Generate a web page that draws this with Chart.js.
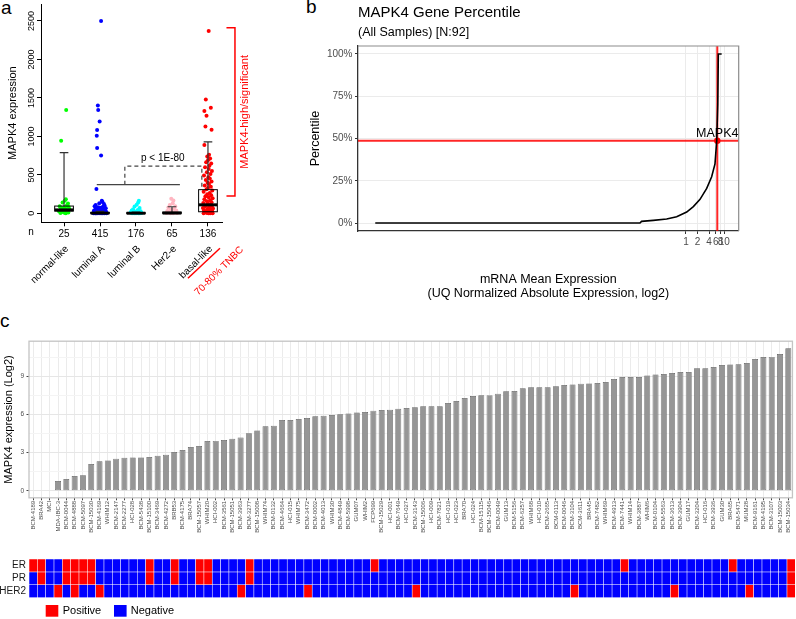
<!DOCTYPE html>
<html>
<head>
<meta charset="utf-8">
<script src="https://cdn.jsdelivr.net/npm/chart.js@4.4.1/dist/chart.umd.min.js"></script>
<style>
  body { margin: 0; width: 796px; height: 619px; position: relative; overflow: hidden; background: #fff;
         font-family: 'Liberation Sans', Arial, sans-serif; }
  canvas { position: absolute; }
  .letter { position: absolute; font-size: 19px; line-height: 1; color: #000; }
</style>
</head>
<body>
<div class="letter" style="left:1px;top:-2px">a</div>
<div class="letter" style="left:306px;top:-3px">b</div>
<div class="letter" style="left:0px;top:311px">c</div>
<canvas id="subtype" width="290" height="300" style="left:0;top:0"></canvas>
<canvas id="pctl" width="506" height="300" style="left:290px;top:0"></canvas>
<canvas id="bars" width="796" height="240" style="left:0;top:300px"></canvas>
<canvas id="status" width="796" height="69" style="left:0;top:550px"></canvas>
<script>
Chart.defaults.font.family = "'Liberation Sans', Arial, sans-serif";
Chart.defaults.color = "#000";

// ---- panel a: subtypes ----
const subtypeNames = ["normal-like", "luminal A", "luminal B", "Her2-e", "basal-like"];
const subtypeCounts = [25, 415, 176, 65, 136];
const subtypeColors = ["#00ff00", "#0000ff", "#00ffff", "#ffb6c1", "#ff0000"];
// [jitter offset, MAPK4 expression]
const normalPts = [[0.06,1343],[-0.08,944],[0.05,182],[0.02,165],[-0.04,140],[0.11,128],[0.08,104],[-0.12,92],[0.13,84],[0.0,76],[-0.06,68],[0.04,60],[0.15,54],[-0.1,48],[0.07,42],[-0.02,38],[0.1,33],[-0.14,28],[0.03,22],[0.09,18],[-0.07,14],[0.12,10],[0.01,7],[-0.1,4],[0.05,2]];
const lumAPts = [[0.03,2500],[-0.06,1403],[-0.05,1343],[-0.01,1193],[-0.08,1082],[-0.09,1009],[-0.08,850],[0.03,751],[-0.1,318],[0.05,165],[0.07,148],[-0.02,132],[0.11,121],[-0.12,110],[0.13,98],[-0.15,92],[0.08,86],[-0.05,80],[0.02,74],[0.16,68],[-0.09,63],[0.1,58],[-0.13,52],[0.04,47],[-0.03,43],[0.14,39],[-0.17,35],[0.09,31],[-0.07,28],[0.01,25],[0.17,22],[-0.11,19],[0.06,16],[-0.04,14],[0.12,12],[-0.16,10],[0.03,8],[-0.08,7],[0.15,6],[-0.01,5],[0.1,4],[-0.14,3],[0.05,3],[-0.06,2],[0.18,2],[-0.18,1],[0.08,1],[-0.1,1],[0.0,0],[0.13,0],[-0.12,0]];
const lumBPts = [[0.08,163],[0.06,140],[0.02,112],[-0.04,88],[0.1,70],[-0.08,55],[0.05,44],[-0.12,36],[0.13,28],[-0.02,22],[0.09,16],[-0.15,12],[0.04,9],[-0.07,6],[0.15,4],[0.0,3],[-0.11,2],[0.11,1],[-0.05,0],[0.07,0]];
const her2Pts = [[-0.02,189],[0.04,168],[0.02,132],[-0.06,110],[0.09,92],[-0.1,75],[0.06,60],[-0.03,48],[0.12,38],[-0.13,30],[0.0,22],[0.08,16],[-0.08,10],[0.14,6],[-0.15,4],[0.03,2],[-0.04,0]];
const basalPts = [[0.02,2368],[-0.06,1480],[0.08,1372],[-0.1,1329],[-0.04,1269],[-0.07,1127],[0.1,1085],[-0.1,888],[0.03,763],[-0.02,740],[0.06,712],[0.0,690],[-0.05,665],[0.09,648],[0.04,620],[-0.08,598],[0.02,575],[0.11,552],[-0.03,534],[0.07,510],[-0.11,492],[0.01,470],[0.05,452],[-0.06,432],[0.1,415],[-0.01,398],[0.03,380],[-0.09,362],[0.08,345],[0.0,330],[-0.04,312],[0.12,296],[-0.12,280],[0.05,265],[-0.02,250],[0.09,236],[-0.07,222],[0.02,208],[0.13,195],[-0.1,182],[0.06,170],[-0.03,158],[0.1,146],[-0.13,135],[0.0,124],[0.07,114],[-0.05,104],[0.11,95],[-0.08,86],[0.03,78],[-0.14,70],[0.14,62],[-0.01,55],[0.08,48],[-0.11,41],[0.05,35],[-0.06,29],[0.12,24],[0.0,19],[-0.09,14],[0.09,10],[-0.03,6],[0.06,3],[-0.12,1],[0.02,0],[0.13,0]];
const boxQ1 = [30, 0, 0, 0, 21];
const boxMedian = [45, 3, 2, 4, 111];
const boxQ3 = [95, 12, 8, 16, 308];
const whiskerHigh = [790, 25, 18, 86, 929];
const yTicksA = [0, 500, 1000, 1500, 2000, 2500];

const groupPts = [normalPts, lumAPts, lumBPts, her2Pts, basalPts];

const subtypeDecor = {
  id: "subtypeDecor",
  afterDatasetsDraw(chart) {
    const { ctx, scales: { x, y } } = chart;
    ctx.save();
    // boxes
    subtypeNames.forEach((n, i) => {
      const cx = x.getPixelForValue(i + 1);
      const half = x.getPixelForValue(i + 1.26) - cx;
      const cap = x.getPixelForValue(i + 1.12) - cx;
      const yq1 = y.getPixelForValue(boxQ1[i]), yq3 = y.getPixelForValue(boxQ3[i]);
      const ym = y.getPixelForValue(boxMedian[i]), yh = y.getPixelForValue(whiskerHigh[i]);
      ctx.strokeStyle = "#333"; ctx.lineWidth = 1.2;
      ctx.beginPath(); ctx.moveTo(cx, yq3); ctx.lineTo(cx, yh);
      ctx.moveTo(cx - cap, yh); ctx.lineTo(cx + cap, yh); ctx.stroke();
      ctx.strokeStyle = "#000"; ctx.lineWidth = 1;
      ctx.strokeRect(cx - half, yq3, 2 * half, yq1 - yq3);
      ctx.lineWidth = 3;
      ctx.beginPath(); ctx.moveTo(cx - half, ym); ctx.lineTo(cx + half, ym); ctx.stroke();
    });
    // y tick labels, rotated like base R
    ctx.fillStyle = "#000"; ctx.font = "9px 'Liberation Sans', Arial";
    ctx.textAlign = "center"; ctx.textBaseline = "middle";
    yTicksA.forEach(v => {
      ctx.save(); ctx.translate(x.left - 9.5, y.getPixelForValue(v)); ctx.rotate(-Math.PI / 2);
      ctx.fillText(String(v), 0, 0); ctx.restore();
    });
    // n
    ctx.font = "10px 'Liberation Sans', Arial";
    ctx.fillText("n", x.left - 10, y.bottom + 10);
    // rotated subtype names
    ctx.textAlign = "right";
    subtypeNames.forEach((n, i) => {
      ctx.save(); ctx.translate(x.getPixelForValue(i + 1) + 3, y.bottom + 25); ctx.rotate(-Math.PI / 4);
      ctx.fillText(n, 0, 0); ctx.restore();
    });
    const bx = x.getPixelForValue(5);
    ctx.fillStyle = "#ff0000";
    ctx.save(); ctx.translate(bx + 34, y.bottom + 26); ctx.rotate(-Math.PI / 4);
    ctx.fillText("70-80% TNBC", 0, 0); ctx.restore();
    ctx.strokeStyle = "#ff0000"; ctx.lineWidth = 1.5;
    ctx.beginPath(); ctx.moveTo(bx - 20, y.bottom + 56); ctx.lineTo(bx + 12, y.bottom + 26); ctx.stroke();
    // MAPK4-high bracket
    const yTop = y.getPixelForValue(2410), yBot = y.getPixelForValue(227);
    ctx.beginPath();
    ctx.moveTo(bx + 18.5, yTop); ctx.lineTo(bx + 27, yTop); ctx.lineTo(bx + 27, yBot); ctx.lineTo(bx + 18.5, yBot);
    ctx.stroke();
    ctx.font = "11px 'Liberation Sans', Arial"; ctx.textAlign = "center";
    ctx.save(); ctx.translate(bx + 37, (yTop + yBot) / 2); ctx.rotate(-Math.PI / 2);
    ctx.fillText("MAPK4-high/significant", 0, 0); ctx.restore();
    // p-value bracket
    ctx.strokeStyle = "#444"; ctx.lineWidth = 1.2;
    const ySolid = y.getPixelForValue(373), yDash = y.getPixelForValue(613);
    ctx.beginPath(); ctx.moveTo(x.getPixelForValue(1.91), ySolid); ctx.lineTo(x.getPixelForValue(4.22), ySolid); ctx.stroke();
    ctx.setLineDash([4, 3]);
    const xl = x.getPixelForValue(2.69), xr = x.getPixelForValue(4.83);
    ctx.beginPath(); ctx.moveTo(xl, ySolid); ctx.lineTo(xl, yDash); ctx.lineTo(xr, yDash);
    ctx.lineTo(xr, y.getPixelForValue(342)); ctx.stroke();
    ctx.setLineDash([]);
    ctx.fillStyle = "#000"; ctx.font = "10px 'Liberation Sans', Arial"; ctx.textBaseline = "middle";
    ctx.fillText("p < 1E-80", (xl + xr) / 2 - 0.5, y.getPixelForValue(720));
    ctx.restore();
  }
};

new Chart(document.getElementById("subtype"), {
  type: "scatter",
  data: {
    datasets: groupPts.map((pts, i) => ({
      label: subtypeNames[i],
      data: pts.map(p => ({ x: i + 1 + p[0], y: p[1] })),
      backgroundColor: subtypeColors[i],
      borderWidth: 0,
      pointRadius: 2
    }))
  },
  options: {
    responsive: false, animation: false, events: [],
    layout: { padding: { top: 2, right: 68 } },
    plugins: { legend: { display: false }, tooltip: { enabled: false } },
    scales: {
      x: {
        type: "linear", min: 0.36, max: 5.39,
        afterBuildTicks: s => { s.ticks = subtypeCounts.map((c, i) => ({ value: i + 1 })); },
        ticks: { callback: v => subtypeCounts[v - 1], font: { size: 10 }, color: "#000", padding: 2, maxRotation: 0 },
        grid: { drawOnChartArea: false, tickLength: 4, color: "#000" },
        border: { color: "#000" },
        afterFit: s => { s.height = 77.7; }
      },
      y: {
        min: -116, max: 2720,
        afterBuildTicks: s => { s.ticks = yTicksA.map(v => ({ value: v })); },
        ticks: { display: false },
        grid: { drawOnChartArea: false, tickLength: 4, color: "#000" },
        border: { color: "#000" },
        title: { display: true, text: "MAPK4 expression", font: { size: 11 }, padding: { top: 6.5, bottom: 0 } },
        afterFit: s => { s.width = 41; }
      }
    }
  },
  plugins: [subtypeDecor]
});

// ---- panel b: gene percentile ----
const pctlLog2 = [-27, -4.0, -3.86, -2.84, -1.68, -0.81, 0.06, 0.64, 1.22, 1.8, 2.23, 2.52, 2.67, 2.76, 2.81, 3.1];
const pctlValue = [0, 0, 1.0, 1.6, 2.4, 3.7, 6.5, 9.7, 14, 20.5, 27.4, 35, 48.7, 70, 100, 100];
const mapk4Log2 = 2.72;
const mapk4Pct = 48.7;
const exprTickLabels = [1, 2, 4, 6, 8, 10];
const pctTicks = [0, 25, 50, 75, 100];

const pctlDecor = {
  id: "pctlDecor",
  afterDraw(chart) {
    const { ctx, chartArea: a, scales: { x, y } } = chart;
    ctx.save();
    ctx.strokeStyle = "#8c8c8c"; ctx.lineWidth = 1.2;
    ctx.beginPath(); ctx.moveTo(a.left, a.top); ctx.lineTo(a.right, a.top); ctx.lineTo(a.right, a.bottom); ctx.stroke();
    ctx.fillStyle = "#000"; ctx.textAlign = "left"; ctx.textBaseline = "middle";
    ctx.font = "15px 'Liberation Sans', Arial";
    ctx.fillText("MAPK4 Gene Percentile", a.left, 12.7);
    ctx.font = "12.5px 'Liberation Sans', Arial";
    ctx.fillText("(All Samples) [N:92]", a.left, 32.3);
    ctx.textAlign = "center";
    ctx.fillText("MAPK4", x.getPixelForValue(mapk4Log2), y.getPixelForValue(mapk4Pct) - 7);
    ctx.restore();
  }
};

new Chart(document.getElementById("pctl"), {
  type: "scatter",
  data: {
    datasets: [
      { data: pctlLog2.map((v, i) => ({ x: v, y: pctlValue[i] })), showLine: true, borderColor: "#000", borderWidth: 1.6, pointRadius: 0 },
      { data: [{ x: -28.5, y: mapk4Pct }, { x: 4.58, y: mapk4Pct }], showLine: true, borderColor: "rgba(255,0,0,0.85)", borderWidth: 2, pointRadius: 0 },
      { data: [{ x: mapk4Log2, y: -4.7 }, { x: mapk4Log2, y: 104.7 }], showLine: true, borderColor: "rgba(255,0,0,0.85)", borderWidth: 2, pointRadius: 0 },
      { data: [{ x: mapk4Log2, y: mapk4Pct }], pointRadius: 3.2, backgroundColor: "#ff0000", borderWidth: 0 }
    ]
  },
  options: {
    responsive: false, animation: false, events: [],
    layout: { padding: { top: 46, right: 57.3 } },
    plugins: { legend: { display: false }, tooltip: { enabled: false } },
    scales: {
      x: {
        type: "linear", min: -28.5, max: 4.58,
        afterBuildTicks: s => { s.ticks = exprTickLabels.map(v => ({ value: Math.log2(v) })); },
        ticks: { callback: (v, i) => exprTickLabels[i], font: { size: 10 }, color: "#4d4d4d", padding: 2, maxRotation: 0, autoSkip: false },
        grid: { color: "#ebebeb", tickLength: 3, tickColor: "#333" },
        border: { color: "#333", width: 1.3 },
        title: { display: true, text: ["mRNA Mean Expression", "(UQ Normalized Absolute Expression, log2)"], font: { size: 12.5, lineHeight: 1.1 }, padding: { top: 1, bottom: 0 } },
        afterFit: s => { s.height = 69; }
      },
      y: {
        min: -4.7, max: 104.7,
        afterBuildTicks: s => { s.ticks = pctTicks.map(v => ({ value: v })); },
        ticks: { callback: v => v + "%", font: { size: 10 }, color: "#4d4d4d", padding: 2.5 },
        grid: { color: "#ebebeb", tickLength: 3, tickColor: "#333" },
        border: { color: "#333", width: 1.3 },
        title: { display: true, text: "Percentile", font: { size: 12.5 }, padding: { top: 18.5, bottom: 0 } },
        afterFit: s => { s.width = 68; }
      }
    }
  },
  plugins: [pctlDecor]
});

// ---- panel c: PDX models ----
const modelNames = ["BCM-4189","BRA42","MCI","MDA-IBC-3","BCM-0044","BCM-4888","BCM-5097","BCM-15030","BCM-4169","WHIM12",
  "BCM-2147","BCM-2277","HCI-028","BCM-5438","BCM-15100","BCM-3469","BCM-4272","BRB53","BCM-4175","BRA74",
  "BCM-15057","WHIM20","HCI-002","BCM-3561","BCM-15051","BCM-3963","BCM-3277","BCM-15008","WHIM74","BCM-0132",
  "BCM-4664","HCI-015","WHIM75","BCM-3472","BCM-0002","BCM-4013","WHIM30","BCM-4849","BCM-5998","GUM07",
  "WHIM2","FCP699","BCM-15029","HCI-001","BCM-7649","HCI-027","BCM-3143","BCM-15006","HCI-009","BCM-7821",
  "HCI-019","HCI-023","BRA70","HCI-024","BCM-15115","BCM-15046","BCM-0049","GUM13","BCM-5156","BCM-6257",
  "WHIM68","HCI-010","BCM-2665","BCM-0113","BCM-0046","BCM-3104","BCM-3611","BRA45","BCM-7482","WHIM69",
  "BCM-4913","BCM-7441","WHIM14","BCM-3887","WHIM6","BCM-0104","BCM-5563","BCM-3613","BCM-3904","GUM17",
  "BCM-3204","HCI-016","BCM-3936","GUM30","BRA65","BCM-5471","MUM28","BCM-9161","BCM-4195","BCM-3107",
  "BCM-15003","BCM-15034"];
const mapk4Expr = [0, 0, 0, 0.76, 0.92, 1.16, 1.21, 2.1, 2.32, 2.39,
  2.53, 2.6, 2.63, 2.63, 2.66, 2.76, 2.84, 3.05, 3.21, 3.45,
  3.53, 3.92, 3.93, 4.0, 4.1, 4.2, 4.53, 4.76, 5.08, 5.13,
  5.58, 5.58, 5.66, 5.74, 5.87, 5.92, 5.97, 6.03, 6.1, 6.18,
  6.21, 6.32, 6.37, 6.39, 6.47, 6.53, 6.58, 6.66, 6.66, 6.66,
  6.92, 7.08, 7.32, 7.47, 7.53, 7.54, 7.66, 7.84, 7.87, 8.08,
  8.16, 8.16, 8.17, 8.24, 8.34, 8.39, 8.45, 8.47, 8.5, 8.58,
  8.82, 8.97, 8.97, 8.97, 9.1, 9.18, 9.21, 9.29, 9.37, 9.37,
  9.66, 9.66, 9.76, 9.92, 9.97, 9.98, 10.08, 10.39, 10.55, 10.56,
  10.79, 11.24];
const erStatus = [1,1,0,0,1,1,1,1,0,0, 0,0,0,0,1,0,0,1,0,0, 1,1,0,0,0,0,1,0,0,0, 0,0,0,0,0,0,0,0,0,0,
  0,1,0,0,0,0,0,0,0,0, 0,0,0,0,0,0,0,0,0,0, 0,0,0,0,0,0,0,0,0,0, 0,1,0,0,0,0,0,0,0,0,
  0,0,0,0,1,0,0,0,0,0, 0,1];
const prStatus = [0,1,0,0,1,1,1,1,0,0, 0,0,0,0,1,0,0,1,0,0, 1,1,0,0,0,0,1,0,0,0, 0,0,0,0,0,0,0,0,0,0,
  0,0,0,0,0,0,0,0,0,0, 0,0,0,0,0,0,0,0,0,0, 0,0,0,0,0,0,0,0,0,0, 0,0,0,0,0,0,0,0,0,0,
  0,0,0,0,0,0,0,0,0,0, 0,1];
const her2Status = [0,0,0,1,0,1,0,0,1,0, 0,0,0,0,0,0,0,0,0,0, 0,0,0,0,0,1,0,0,0,0, 0,0,0,1,0,0,0,0,0,0,
  0,0,0,0,0,0,1,0,0,0, 0,0,0,0,0,0,0,0,0,0, 0,0,0,0,0,1,0,0,0,0, 0,0,0,0,0,0,0,1,0,0,
  0,0,0,0,0,0,1,0,0,0, 0,1];
const barTicks = [0, 1.5, 3, 4.5, 6, 7.5, 9, 10.5];
const statusRows = ["HER2", "PR", "ER"];

const frame = {
  id: "frame",
  afterDraw(chart) {
    const { ctx, chartArea: a } = chart;
    ctx.save(); ctx.strokeStyle = "#c4c4c4"; ctx.lineWidth = 1.3;
    ctx.strokeRect(a.left, a.top, a.right - a.left, a.bottom - a.top); ctx.restore();
  }
};

new Chart(document.getElementById("bars"), {
  type: "bar",
  data: {
    labels: modelNames,
    datasets: [{ data: mapk4Expr, backgroundColor: "#969696", borderColor: "#5e5e5e", borderWidth: 0.7, borderSkipped: false, barPercentage: 0.72, categoryPercentage: 1 }]
  },
  options: {
    responsive: false, animation: false, events: [],
    layout: { padding: { top: 41.2, right: 0.7 } },
    plugins: { legend: { display: false }, tooltip: { enabled: false } },
    scales: {
      x: {
        ticks: { autoSkip: false, minRotation: 90, maxRotation: 90, font: { size: 6 }, color: "#4d4d4d", padding: 0.5 },
        grid: { offset: false, color: "#ebebeb", tickLength: 2.5, tickColor: "#444" },
        border: { display: false },
        afterFit: s => { s.height = 42.2; }
      },
      y: {
        min: -0.56, max: 11.8,
        afterBuildTicks: s => { s.ticks = barTicks.map(v => ({ value: v })); },
        ticks: { callback: v => (v % 3 === 0 ? v : ""), font: { size: 6.5 }, color: "#4d4d4d", padding: 2.5 },
        grid: {
          color: c => (c.tick && c.tick.value % 3 === 0 ? "#e6e6e6" : "#f4f4f4"),
          tickColor: c => (c.tick && c.tick.value % 3 === 0 ? "#444" : "rgba(0,0,0,0)"),
          tickLength: 2.5
        },
        border: { display: false },
        title: { display: true, text: "MAPK4 expression (Log2)", font: { size: 11 }, padding: { top: 2, bottom: 0 } },
        afterFit: s => { s.width = 29; }
      }
    }
  },
  plugins: [frame]
});

// ---- panel c: receptor status heatmap ----
const posColor = "#ff0000", negColor = "#0000ff";
const statusLegend = {
  id: "statusLegend",
  afterDraw(chart) {
    const { ctx } = chart;
    ctx.save();
    ctx.font = "11px 'Liberation Sans', Arial"; ctx.textBaseline = "middle"; ctx.textAlign = "left";
    ctx.fillStyle = posColor; ctx.fillRect(45.7, 55, 12.6, 11.7);
    ctx.fillStyle = negColor; ctx.fillRect(114, 55, 12.6, 11.7);
    ctx.fillStyle = "#000";
    ctx.fillText("Positive", 62.7, 61);
    ctx.fillText("Negative", 130.7, 61);
    ctx.restore();
  }
};

new Chart(document.getElementById("status"), {
  type: "bar",
  data: {
    labels: modelNames,
    datasets: [her2Status, prStatus, erStatus].map((st, i) => ({
      label: statusRows[i],
      data: st.map(() => 1),
      backgroundColor: st.map(s => (s ? posColor : negColor)),
      borderColor: "rgba(255,255,255,0.45)", borderWidth: 0.6, borderSkipped: false,
      barPercentage: 1, categoryPercentage: 1
    }))
  },
  options: {
    responsive: false, animation: false, events: [],
    layout: { padding: { top: 4.3, right: 0.7, bottom: 21.3 } },
    plugins: { legend: { display: false }, tooltip: { enabled: false } },
    scales: {
      x: { stacked: true, display: false },
      y: {
        stacked: true, min: 0, max: 3,
        afterBuildTicks: s => { s.ticks = statusRows.map((r, i) => ({ value: i + 0.5 })); },
        ticks: { callback: (v, i) => statusRows[i], font: { size: 10 }, color: "#1a1a1a", padding: 3 },
        grid: { display: false, drawTicks: false, tickLength: 0 },
        border: { display: false },
        afterFit: s => { s.width = 29; }
      }
    }
  },
  plugins: [statusLegend]
});
</script>
</body>
</html>
